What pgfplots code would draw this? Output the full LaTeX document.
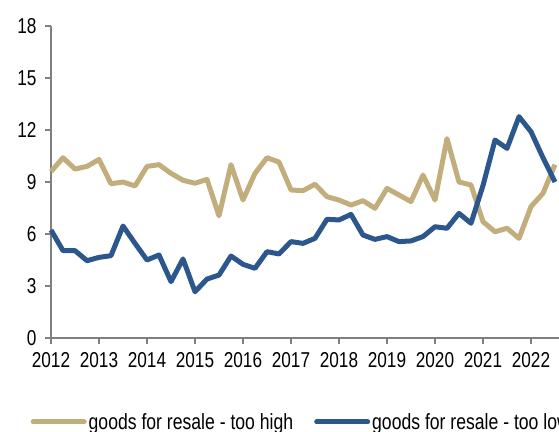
\documentclass[border=0pt]{standalone}
\usepackage{fontspec}
\setmainfont[FakeStretch=0.8]{Liberation Sans}
\usepackage{pgfplots}
\pgfplotsset{compat=1.18}
\definecolor{tan}{RGB}{193,174,124}
\definecolor{navy}{RGB}{44,87,140}
\definecolor{axgray}{RGB}{128,128,128}
\begin{document}
\begin{tikzpicture}[x=1pt,y=1pt]
\useasboundingbox (0,0) rectangle (559,431);
\clip (0,0) rectangle (559,431);
\begin{axis}[
  at={(51pt,93pt)}, anchor=south west,
  scale only axis, width=516pt, height=312pt,
  xmin=2012, xmax=2022.75, ymin=0, ymax=18,
  axis lines*=left,
  axis line style={axgray, line width=1.3pt, -},
  xtick={2012,...,2022}, ytick={0,3,...,18},
  tick style={axgray, line width=1.3pt},
  tick align=outside, major tick length=6pt,
  x tick label style={/pgf/number format/1000 sep={}},
  /pgf/number format/assume math mode=true,
  tick label style={font=\fontsize{21.5}{23}\selectfont, black},
  xticklabel style={yshift=-5pt},
  yticklabel style={xshift=-5pt},
  legend columns=2,
  legend style={at={(-0.0397,-0.269)}, anchor=west, draw=none, fill=none, inner sep=0pt,
    font=\fontsize{22}{24}\selectfont,
    /tikz/every even column/.append style={column sep=19pt}},
  legend cell align=left,
  legend image code/.code={\draw[#1, line width=5pt, line cap=round] (0pt,0pt) -- (51pt,0pt);},
  clip=false,
]
\addplot[tan, line width=5pt, line join=round] coordinates {
(2012.00,9.6) (2012.25,10.4) (2012.50,9.75) (2012.75,9.9) (2013.00,10.3) (2013.25,8.9) (2013.50,9.0) (2013.75,8.77)
(2014.00,9.9) (2014.25,10.0) (2014.50,9.5) (2014.75,9.1) (2015.00,8.93) (2015.25,9.15) (2015.50,7.05) (2015.75,10.0)
(2016.00,7.96) (2016.25,9.5) (2016.50,10.4) (2016.75,10.15) (2017.00,8.54) (2017.25,8.5) (2017.50,8.87) (2017.75,8.15)
(2018.00,7.96) (2018.25,7.67) (2018.50,7.92) (2018.75,7.48) (2019.00,8.63) (2019.25,8.25) (2019.50,7.87) (2019.75,9.4)
(2020.00,7.96) (2020.25,11.5) (2020.50,9.0) (2020.75,8.83) (2021.00,6.71) (2021.25,6.13) (2021.50,6.33) (2021.75,5.75)
(2022.00,7.58) (2022.25,8.35) (2022.50,10.0)
};
\addlegendentry{goods for resale - too high}
\addplot[navy, line width=5pt, line join=round] coordinates {
(2012.00,6.23) (2012.25,5.04) (2012.50,5.04) (2012.75,4.46) (2013.00,4.65) (2013.25,4.75) (2013.50,6.46) (2013.75,5.46)
(2014.00,4.5) (2014.25,4.79) (2014.50,3.25) (2014.75,4.56) (2015.00,2.67) (2015.25,3.4) (2015.50,3.63) (2015.75,4.73)
(2016.00,4.25) (2016.25,4.02) (2016.50,4.98) (2016.75,4.85) (2017.00,5.56) (2017.25,5.46) (2017.50,5.75) (2017.75,6.85)
(2018.00,6.81) (2018.25,7.13) (2018.50,5.94) (2018.75,5.69) (2019.00,5.85) (2019.25,5.56) (2019.50,5.6) (2019.75,5.85)
(2020.00,6.42) (2020.25,6.33) (2020.50,7.19) (2020.75,6.62) (2021.00,8.8) (2021.25,11.42) (2021.50,10.94) (2021.75,12.77)
(2022.00,11.9) (2022.25,10.4) (2022.50,9.0)
};
\addlegendentry{goods for resale - too low}
\end{axis}
\end{tikzpicture}
\end{document}
